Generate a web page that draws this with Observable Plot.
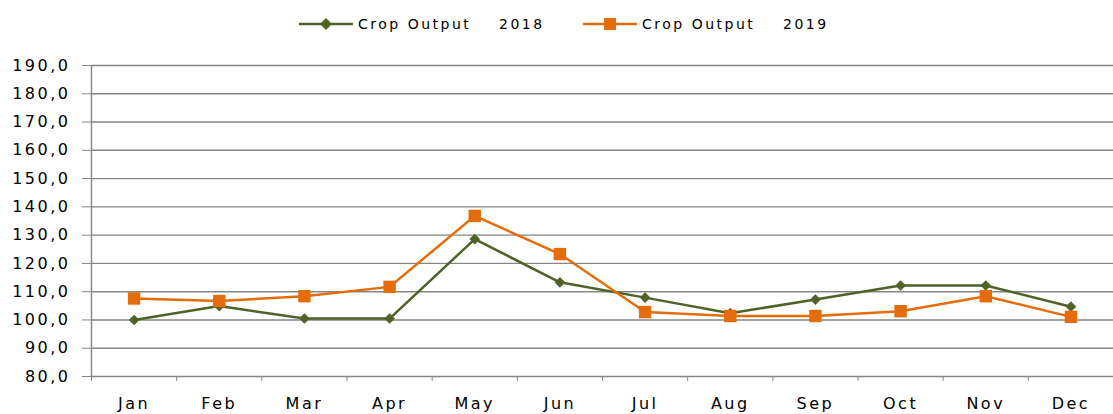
<!DOCTYPE html>
<html>
<head>
<meta charset="utf-8">
<script src="https://cdn.jsdelivr.net/npm/d3@7"></script>
<script src="https://cdn.jsdelivr.net/npm/@observablehq/plot@0.6"></script>
<style>
  html, body { margin: 0; padding: 0; background: #fff; }
  body { width: 1113px; height: 414px; overflow: hidden; font-family: "DejaVu Sans", sans-serif; }
  #legend { position: relative; height: 40px; width: 1113px; }
  .item { position: absolute; top: 14px; height: 20px; display: flex; align-items: center; }
  .item span { font-size: 14px; letter-spacing: 2.5px; white-space: pre; color: #000; margin-left: 5px; }
  .item svg { display: block; }
</style>
</head>
<body>
<div id="legend"></div>
<div id="chart"></div>
<script>
const months = ["Jan","Feb","Mar","Apr","May","Jun","Jul","Aug","Sep","Oct","Nov","Dec"];
const crop2018 = [100.0, 104.9, 100.5, 100.5, 128.6, 113.3, 107.9, 102.4, 107.2, 112.2, 112.2, 104.7];
const crop2019 = [107.6, 106.7, 108.4, 111.7, 136.8, 123.3, 102.8, 101.4, 101.4, 103.1, 108.4, 101.1];
const seriesNames = ["Crop Output    2018", "Crop Output    2019"];
const seriesColors = ["#4f6228", "#e46c0a"];
const yTicks = d3.range(80, 191, 10);

const d2018 = months.map((m, i) => ({i, month: m, value: crop2018[i]}));
const d2019 = months.map((m, i) => ({i, month: m, value: crop2019[i]}));

// Legend
const legend = document.getElementById("legend");
const lefts = [299, 583];
seriesNames.forEach((name, k) => {
  const item = document.createElement("div");
  item.className = "item";
  item.style.left = lefts[k] + "px";
  const marker = k === 0
    ? `<polygon points="27,4 33,10 27,16 21,10" fill="${seriesColors[k]}"/>`
    : `<rect x="21" y="4" width="12" height="12" fill="${seriesColors[k]}"/>`;
  item.innerHTML = `<svg width="54" height="20"><line x1="0" x2="54" y1="10" y2="10" stroke="${seriesColors[k]}" stroke-width="2.5"/>${marker}</svg><span>${name}</span>`;
  legend.appendChild(item);
});

const fmt = v => v.toFixed(1).replace(".", ",");
const xc = d => d.i + 0.5;

const chart = Plot.plot({
  width: 1113,
  height: 374,
  marginTop: 25,
  marginBottom: 38,
  marginLeft: 91,
  marginRight: 0,
  style: {fontFamily: "DejaVu Sans", fontSize: "16px", letterSpacing: "2.5px", color: "#000", background: "#fff"},
  x: {type: "linear", domain: [0, 12]},
  y: {domain: [80, 190]},
  marks: [
    Plot.ruleY(yTicks, {stroke: "#868686", strokeWidth: 1.4}),
    Plot.ruleX([0], {stroke: "#868686", strokeWidth: 1.4}),
    Plot.axisY({ticks: yTicks, tickSize: 9, tickPadding: 12, tickFormat: fmt, stroke: "#868686", fill: "#000", label: null}),
    Plot.axisX({ticks: d3.range(0, 13), tickSize: 5, tickFormat: () => "", stroke: "#868686", label: null}),
    Plot.axisX({ticks: months.map((m, i) => i + 0.5), tickSize: 0, tickPadding: 21, tickFormat: v => months[Math.floor(v)], fill: "#000", label: null}),
    Plot.line(d2018, {x: xc, y: "value", stroke: seriesColors[0], strokeWidth: 2.5}),
    Plot.line(d2019, {x: xc, y: "value", stroke: seriesColors[1], strokeWidth: 2.5}),
    Plot.dot(d2018, {x: xc, y: "value", symbol: "diamond2", r: 4.8, fill: seriesColors[0], stroke: "none"}),
    Plot.dot(d2019, {x: xc, y: "value", symbol: "square", r: 7, fill: seriesColors[1], stroke: "none"})
  ]
});
document.getElementById("chart").appendChild(chart);
</script>
</body>
</html>
